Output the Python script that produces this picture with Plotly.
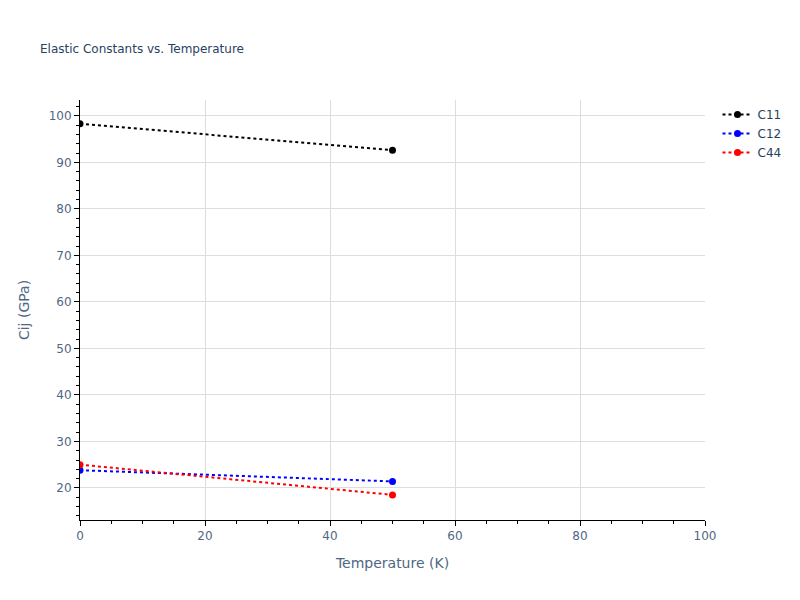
import plotly.graph_objects as go

temperature = [0, 50]
c11 = [98.3, 92.6]
c12 = [23.8, 21.4]
c44 = [25.0, 18.5]
series_names = ["C11", "C12", "C44"]
series_colors = ["black", "blue", "red"]

fig = go.Figure()
for name, vals, col in zip(series_names, [c11, c12, c44], series_colors):
    fig.add_trace(go.Scatter(x=temperature, y=vals, mode="lines+markers", name=name,
                             line=dict(color=col, dash="dot", width=2),
                             marker=dict(color=col, size=7)))

axis_common = dict(showline=True, linecolor="black", linewidth=1, ticks="outside",
                   tickcolor="black", ticklen=5, showgrid=True, gridcolor="#dddddd",
                   zeroline=False, mirror=False,
                   tickfont=dict(color="#506784", size=12),
                   title_font=dict(color="#506784", size=14))

fig.update_layout(
    width=800, height=600,
    template="plotly_white",
    font=dict(family="DejaVu Sans", color="#2a3f5f"),
    title=dict(text="Elastic Constants vs. Temperature", x=0.05, y=0.925,
               font=dict(size=12, color="#2a3f5f")),
    plot_bgcolor="white", paper_bgcolor="white",
    margin=dict(l=80, r=95, t=100, b=80),
    legend=dict(font=dict(color="#2a3f5f", size=12)),
    xaxis=dict(title="Temperature (K)", range=[0, 100], dtick=20,
               minor=dict(ticks="outside", dtick=5, ticklen=3, tickcolor="black"),
               **axis_common),
    yaxis=dict(title="Cij (GPa)", range=[13.1, 103.4], dtick=10,
               minor=dict(ticks="outside", dtick=2, ticklen=3, tickcolor="black"),
               **axis_common),
)

fig.write_html("out.html", config={"displayModeBar": False},
               post_script="document.body.style.margin='0';")
